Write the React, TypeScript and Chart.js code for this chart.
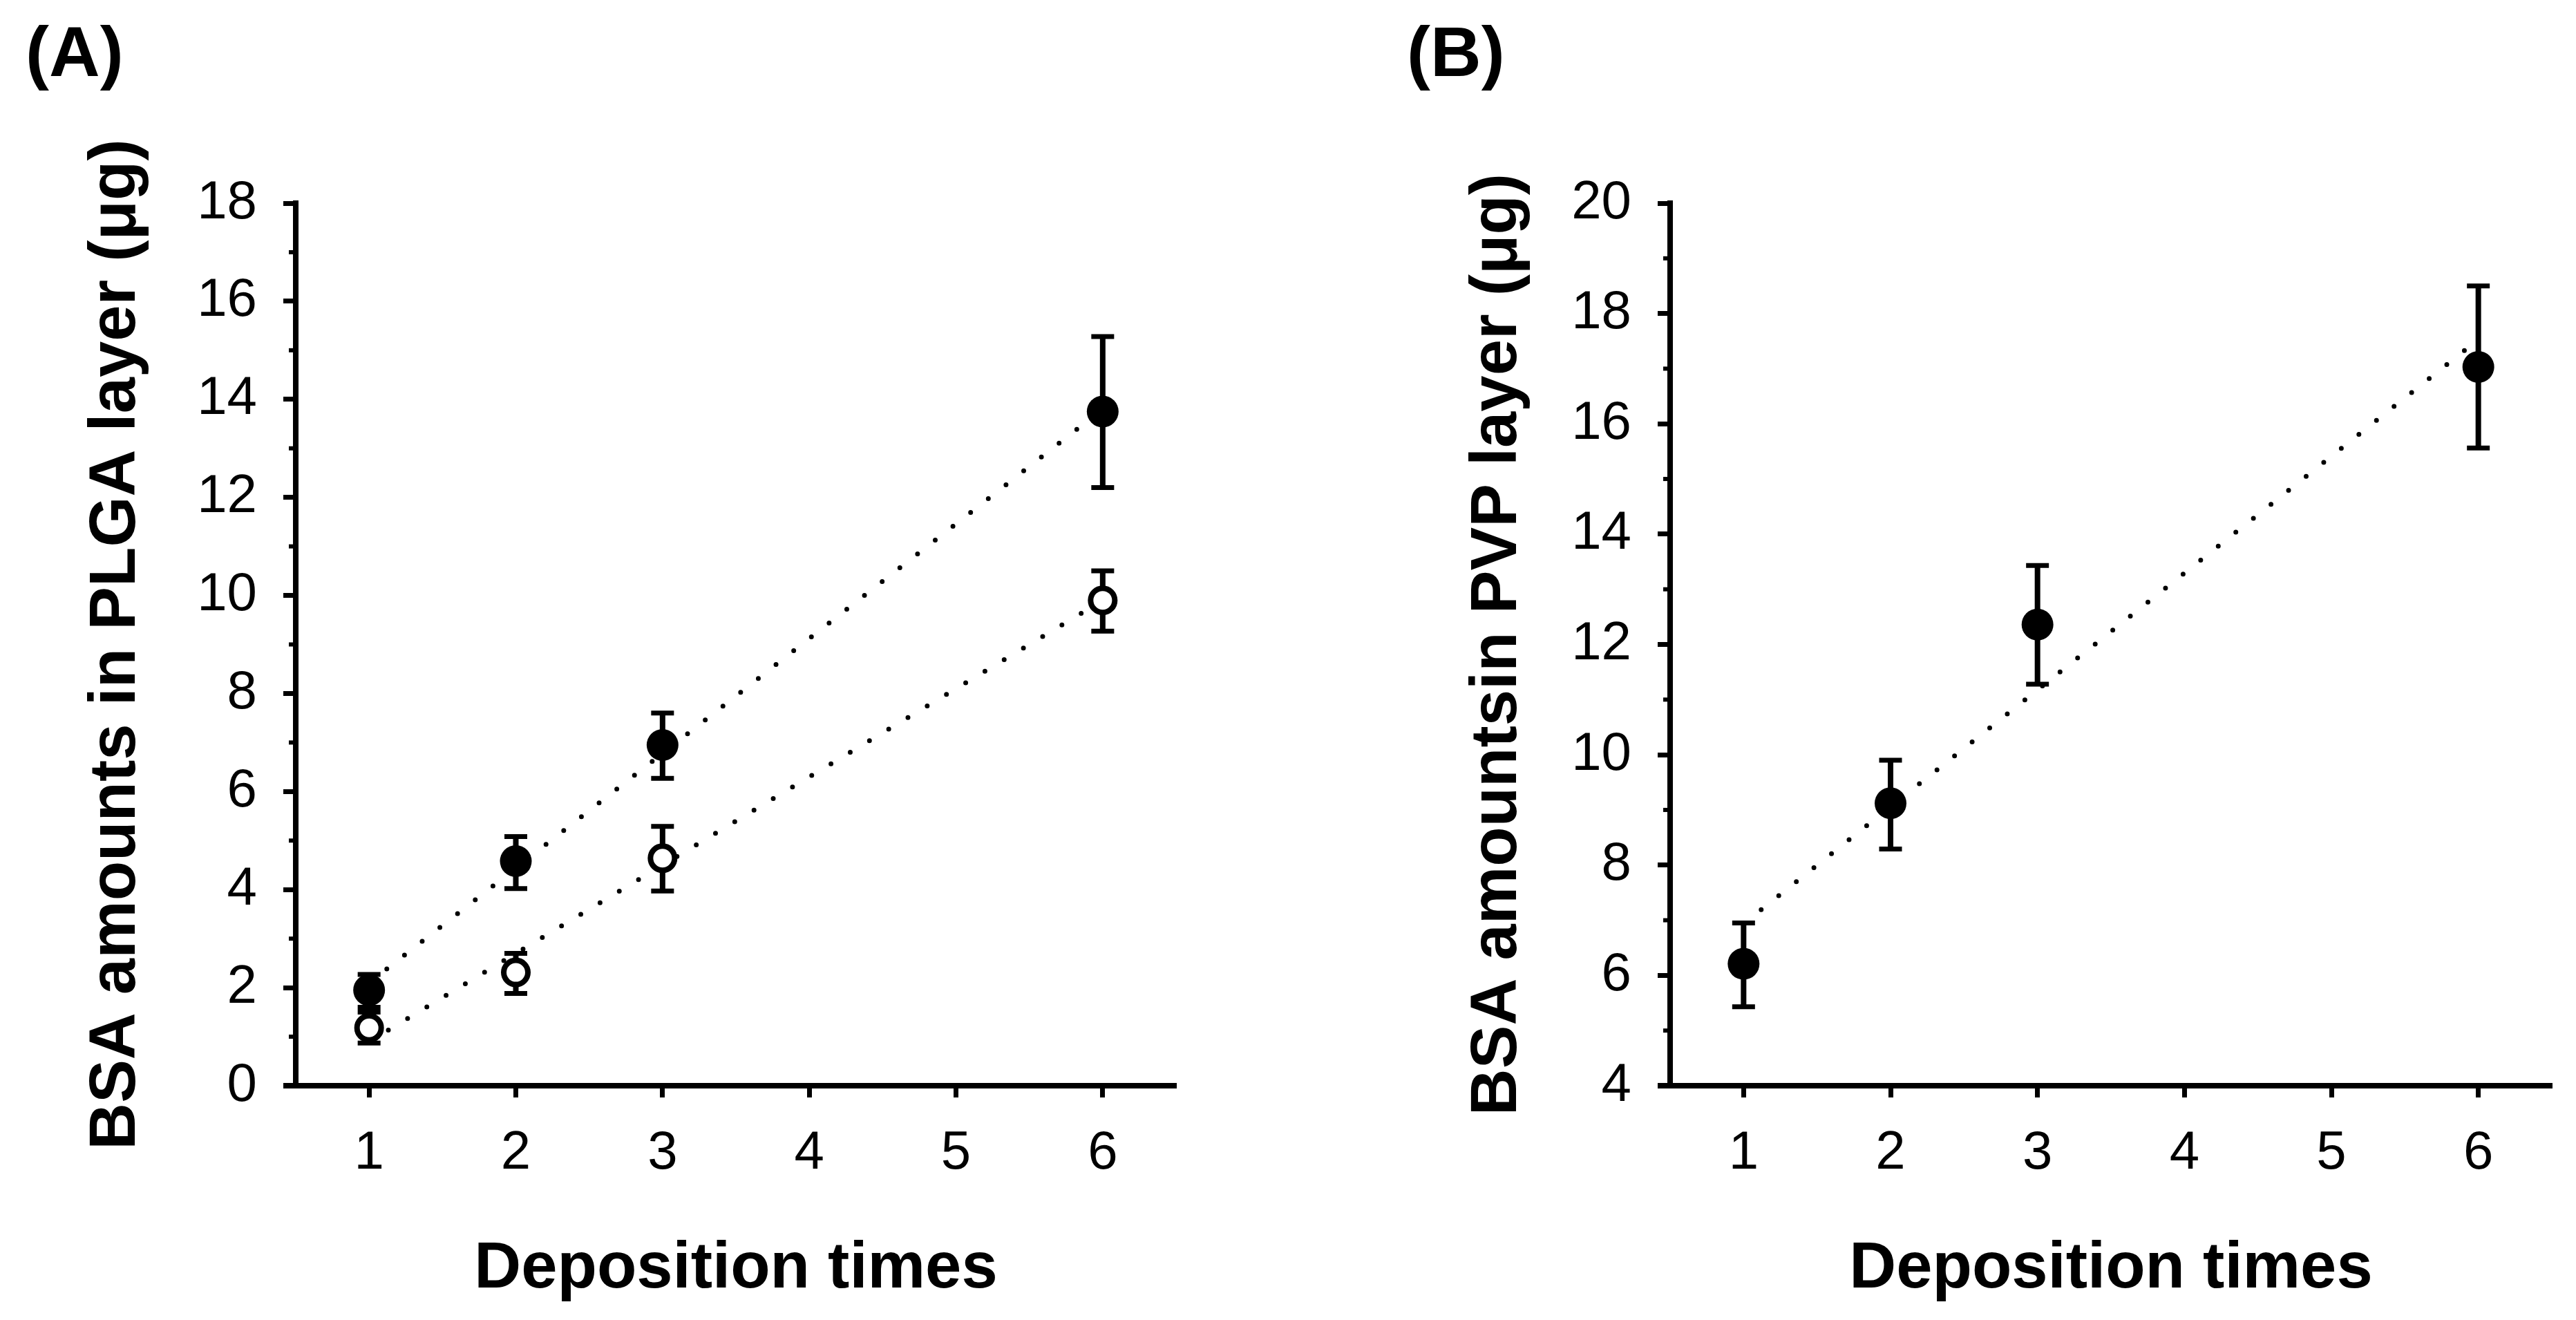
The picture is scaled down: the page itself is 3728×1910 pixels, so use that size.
import React, { useEffect, useRef } from 'react';
import { Chart, registerables } from 'chart.js';

Chart.register(...registerables);

// ---------- data ----------
const depositionTimes = [1, 2, 3, 6];
const xTickValues = [1, 2, 3, 4, 5, 6];

// Panel A (PLGA layer)
const plgaYTicks = [0, 2, 4, 6, 8, 10, 12, 14, 16, 18];
const plgaYMinorTicks = [1, 3, 5, 7, 9, 11, 13, 15, 17];
const plgaFilledMean = [1.95, 4.58, 6.95, 13.75];
const plgaFilledUpper = [2.27, 5.08, 7.6, 15.28];
const plgaFilledLower = [1.6, 4.02, 6.27, 12.2];
const plgaOpenMean = [1.18, 2.31, 4.64, 9.9];
const plgaOpenUpper = [1.5, 2.7, 5.29, 10.5];
const plgaOpenLower = [0.87, 1.88, 3.97, 9.27];
const plgaFilledTrendX = [1, 6];
const plgaFilledTrendY = [2.1, 13.8];
const plgaOpenTrendX = [1, 6];
const plgaOpenTrendY = [0.9, 9.9];

// Panel B (PVP layer)
const pvpYTicks = [4, 6, 8, 10, 12, 14, 16, 18, 20];
const pvpYMinorTicks = [5, 7, 9, 11, 13, 15, 17, 19];
const pvpMean = [6.21, 9.12, 12.36, 17.03];
const pvpUpper = [6.95, 9.9, 13.43, 18.5];
const pvpLower = [5.43, 8.29, 11.28, 15.56];
const pvpTrendX = [1, 6];
const pvpTrendY = [6.94, 17.53];

const FONT = "'Liberation Sans', Arial, Helvetica, sans-serif";
const BLACK = '#000000';

const extrasPlugin = {
  id: 'panelExtras',
  beforeDatasetsDraw(chart: any, _args: any, opts: any) {
    const { ctx } = chart;
    const xs = chart.scales.x;
    const ys = chart.scales.y;
    const cap = 16.5;
    ctx.save();
    ctx.strokeStyle = BLACK;
    ctx.lineCap = 'butt';
    for (const bar of opts.bars || []) {
      bar.x.forEach((xv: number, j: number) => {
        const px = xs.getPixelForValue(xv);
        const pu = ys.getPixelForValue(bar.upper[j]);
        const pl = ys.getPixelForValue(bar.lower[j]);
        ctx.lineWidth = 8;
        ctx.beginPath();
        ctx.moveTo(px, pu);
        ctx.lineTo(px, pl);
        ctx.stroke();
        ctx.lineWidth = 7;
        ctx.beginPath();
        ctx.moveTo(px - cap, pu);
        ctx.lineTo(px + cap, pu);
        ctx.moveTo(px - cap, pl);
        ctx.lineTo(px + cap, pl);
        ctx.stroke();
      });
    }
    ctx.restore();
  },
  afterDraw(chart: any, _args: any, opts: any) {
    const { ctx, chartArea } = chart;
    const ys = chart.scales.y;
    ctx.save();
    ctx.strokeStyle = BLACK;
    ctx.lineWidth = 6;
    for (const v of opts.minorTicks || []) {
      const py = ys.getPixelForValue(v);
      ctx.beginPath();
      ctx.moveTo(chartArea.left - 10, py);
      ctx.lineTo(chartArea.left, py);
      ctx.stroke();
    }
    // x axis line extends slightly left of the y axis
    ctx.lineWidth = 8;
    ctx.beginPath();
    ctx.moveTo(chartArea.left - 18, chartArea.bottom);
    ctx.lineTo(chartArea.left, chartArea.bottom);
    ctx.stroke();
    // panel label
    ctx.fillStyle = BLACK;
    ctx.font = `bold 102px ${FONT}`;
    ctx.textBaseline = 'alphabetic';
    ctx.textAlign = 'left';
    ctx.fillText(opts.label, opts.labelX, 110);
    ctx.restore();
  },
};

type PanelProps = {
  left: number;
  yWidth: number;
  padRight: number;
  yTitlePad: number;
  yMin: number;
  yMax: number;
  yTicks: number[];
  minorTicks: number[];
  yTitle: string;
  label: string;
  labelX: number;
  series: { mean: number[]; upper: number[]; lower: number[]; open: boolean }[];
  trends: { x: number[]; y: number[] }[];
};

const W = 1864;
const H = 1910;

function Panel(p: PanelProps) {
  const ref = useRef<HTMLCanvasElement | null>(null);
  useEffect(() => {
    if (!ref.current) return;
    const pointSets = p.series.map((s) => ({
      type: 'scatter' as const,
      data: depositionTimes.map((x, i) => ({ x, y: s.mean[i] })),
      showLine: false,
      pointRadius: s.open ? 17.5 : 23,
      pointHoverRadius: s.open ? 17.5 : 23,
      pointBackgroundColor: s.open ? '#ffffff' : BLACK,
      pointBorderColor: BLACK,
      pointBorderWidth: s.open ? 8 : 0,
      order: 0,
    }));
    const trendSets = p.trends.map((t) => ({
      type: 'line' as const,
      data: t.x.map((x, i) => ({ x, y: t.y[i] })),
      borderColor: BLACK,
      borderWidth: 7,
      borderDash: [0, 32.5],
      borderCapStyle: 'round' as const,
      pointRadius: 0,
      fill: false,
      tension: 0,
      order: 1,
    }));
    const chart = new Chart(ref.current, {
      type: 'scatter',
      data: { datasets: [...pointSets, ...trendSets] as any },
      plugins: [extrasPlugin as any],
      options: {
        animation: false,
        responsive: false,
        events: [],
        layout: { padding: { left: 0, top: 294, right: p.padRight, bottom: 0 } },
        plugins: {
          legend: { display: false },
          tooltip: { enabled: false },
          title: { display: false },
          panelExtras: {
            label: p.label,
            labelX: p.labelX,
            minorTicks: p.minorTicks,
            bars: p.series.map((s) => ({ x: depositionTimes, upper: s.upper, lower: s.lower })),
          },
        } as any,
        scales: {
          x: {
            type: 'linear',
            min: 0.5,
            max: 6.5,
            afterBuildTicks: (scale: any) => {
              scale.ticks = xTickValues.map((v) => ({ value: v }));
            },
            afterFit: (scale: any) => {
              scale.height = 339;
            },
            ticks: {
              color: BLACK,
              font: { family: FONT, size: 78 },
              padding: 35,
              callback: (v: any) => String(v),
            },
            grid: {
              display: true,
              drawOnChartArea: false,
              drawTicks: true,
              tickLength: 17,
              tickWidth: 7,
              tickColor: BLACK,
            },
            border: { display: true, color: BLACK, width: 8 },
            title: {
              display: true,
              text: 'Deposition times',
              color: BLACK,
              font: { family: FONT, size: 94, weight: 'bold' },
              padding: { top: 0, bottom: 17 },
            },
          },
          y: {
            type: 'linear',
            min: p.yMin,
            max: p.yMax,
            afterBuildTicks: (scale: any) => {
              scale.ticks = p.yTicks.map((v) => ({ value: v }));
            },
            afterFit: (scale: any) => {
              scale.width = p.yWidth;
            },
            ticks: {
              color: BLACK,
              font: { family: FONT, size: 78 },
              padding: 38,
              callback: (v: any) => String(v),
            },
            grid: {
              display: true,
              drawOnChartArea: false,
              drawTicks: true,
              tickLength: 18,
              tickWidth: 7,
              tickColor: BLACK,
            },
            border: { display: true, color: BLACK, width: 8 },
            title: {
              display: true,
              text: p.yTitle,
              color: BLACK,
              font: { family: FONT, size: 94, weight: 'bold' },
              padding: { top: p.yTitlePad, bottom: 0 },
            },
          },
        },
      } as any,
    });
    return () => chart.destroy();
  }, []);
  return (
    <canvas
      ref={ref}
      width={W}
      height={H}
      style={{ position: 'absolute', left: p.left, top: 0, width: W, height: H }}
    />
  );
}

export default function App() {
  useEffect(() => {
    document.body.style.margin = '0';
    document.body.style.overflow = 'hidden';
    document.body.style.background = '#ffffff';
  }, []);
  return (
    <div style={{ position: 'absolute', left: 0, top: 0, width: 3728, height: 1910, background: '#fff' }}>
      <Panel
        left={0}
        yWidth={428}
        padRight={162}
        yTitlePad={113}
        yMin={0}
        yMax={18}
        yTicks={plgaYTicks}
        minorTicks={plgaYMinorTicks}
        yTitle="BSA amounts in PLGA layer (μg)"
        label="(A)"
        labelX={37}
        series={[
          { mean: plgaFilledMean, upper: plgaFilledUpper, lower: plgaFilledLower, open: false },
          { mean: plgaOpenMean, upper: plgaOpenUpper, lower: plgaOpenLower, open: true },
        ]}
        trends={[
          { x: plgaFilledTrendX, y: plgaFilledTrendY },
          { x: plgaOpenTrendX, y: plgaOpenTrendY },
        ]}
      />
      <Panel
        left={1864}
        yWidth={553}
        padRight={35}
        yTitlePad={248}
        yMin={4}
        yMax={20}
        yTicks={pvpYTicks}
        minorTicks={pvpYMinorTicks}
        yTitle="BSA amountsin PVP layer (μg)"
        label="(B)"
        labelX={172}
        series={[{ mean: pvpMean, upper: pvpUpper, lower: pvpLower, open: false }]}
        trends={[{ x: pvpTrendX, y: pvpTrendY }]}
      />
    </div>
  );
}
